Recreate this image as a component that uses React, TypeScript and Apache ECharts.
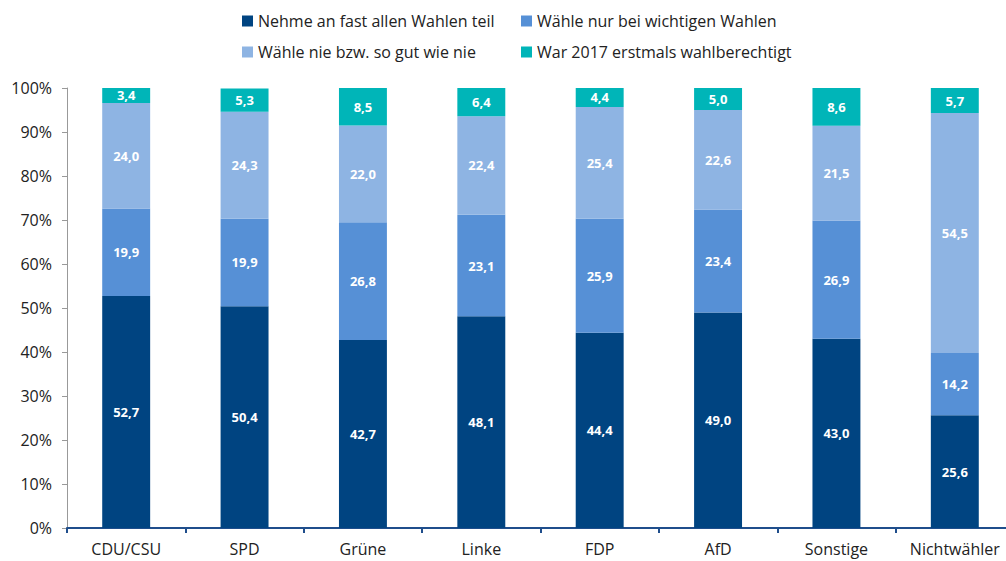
import React, { useEffect, useRef } from "react";
import * as echarts from "echarts";

const categories = ["CDU/CSU", "SPD", "Grüne", "Linke", "FDP", "AfD", "Sonstige", "Nichtwähler"];
const seriesNames = [
  "Nehme an fast allen Wahlen teil",
  "Wähle nur bei wichtigen Wahlen",
  "Wähle nie bzw. so gut wie nie",
  "War 2017 erstmals wahlberechtigt",
];
const nehme = [52.7, 50.4, 42.7, 48.1, 44.4, 49.0, 43.0, 25.6];
const wichtig = [19.9, 19.9, 26.8, 23.1, 25.9, 23.4, 26.9, 14.2];
const nie = [24.0, 24.3, 22.0, 22.4, 25.4, 22.6, 21.5, 54.5];
const erstmals = [3.4, 5.3, 8.5, 6.4, 4.4, 5.0, 8.6, 5.7];
const colors = ["#004481", "#5690d6", "#8eb4e3", "#00b5b8"];

export default function App() {
  const ref = useRef<HTMLDivElement>(null);
  useEffect(() => {
    if (!ref.current) return;
    const chart = echarts.init(ref.current, null, { renderer: "svg" });
    const font = "'Open Sans', 'Noto Sans', sans-serif";
    const values = [nehme, wichtig, nie, erstmals];
    const legendBase = {
      top: 6,
      orient: "vertical",
      itemGap: 11,
      itemWidth: 11,
      itemHeight: 11,
      icon: "rect",
      textStyle: { fontSize: 16, color: "#222", fontFamily: font, lineHeight: 20 },
    };
    chart.setOption({
      animation: false,
      textStyle: { fontFamily: font },
      legend: [
        { ...legendBase, data: [seriesNames[0], seriesNames[2]], left: 237 },
        { ...legendBase, data: [seriesNames[1], seriesNames[3]], left: 516 },
      ],
      grid: { left: 67, right: 0, top: 88, bottom: 33, containLabel: false },
      xAxis: {
        type: "category",
        data: categories,
        axisLine: { lineStyle: { color: "#1f4e8c", width: 2 } },
        axisTick: { show: true, length: 5, lineStyle: { color: "#1f4e8c", width: 2 } },
        axisLabel: { fontSize: 16, color: "#222", margin: 13, fontFamily: font },
      },
      yAxis: {
        type: "value",
        min: 0,
        max: 100,
        interval: 10,
        axisLine: { show: true, lineStyle: { color: "#999", width: 1 } },
        axisTick: { show: true, length: 5, lineStyle: { color: "#999" } },
        splitLine: { show: false },
        axisLabel: { fontSize: 16, color: "#222", margin: 15, formatter: "{value}%", fontFamily: font },
      },
      series: seriesNames.map((name, i) => ({
        name,
        type: "bar",
        stack: "total",
        barWidth: "40.5%",
        data: values[i],
        itemStyle: { color: colors[i] },
        label: {
          show: true,
          position: "inside",
          color: "#fff",
          fontWeight: "bold",
          fontSize: 13,
          fontFamily: font,
          formatter: (p: any) => Number(p.value).toFixed(1).replace(".", ","),
        },
      })),
    });
    return () => chart.dispose();
  }, []);
  return (
    <div
      ref={ref}
      style={{ position: "fixed", left: 0, top: 0, width: 1014, height: 561, background: "#fff" }}
    />
  );
}
